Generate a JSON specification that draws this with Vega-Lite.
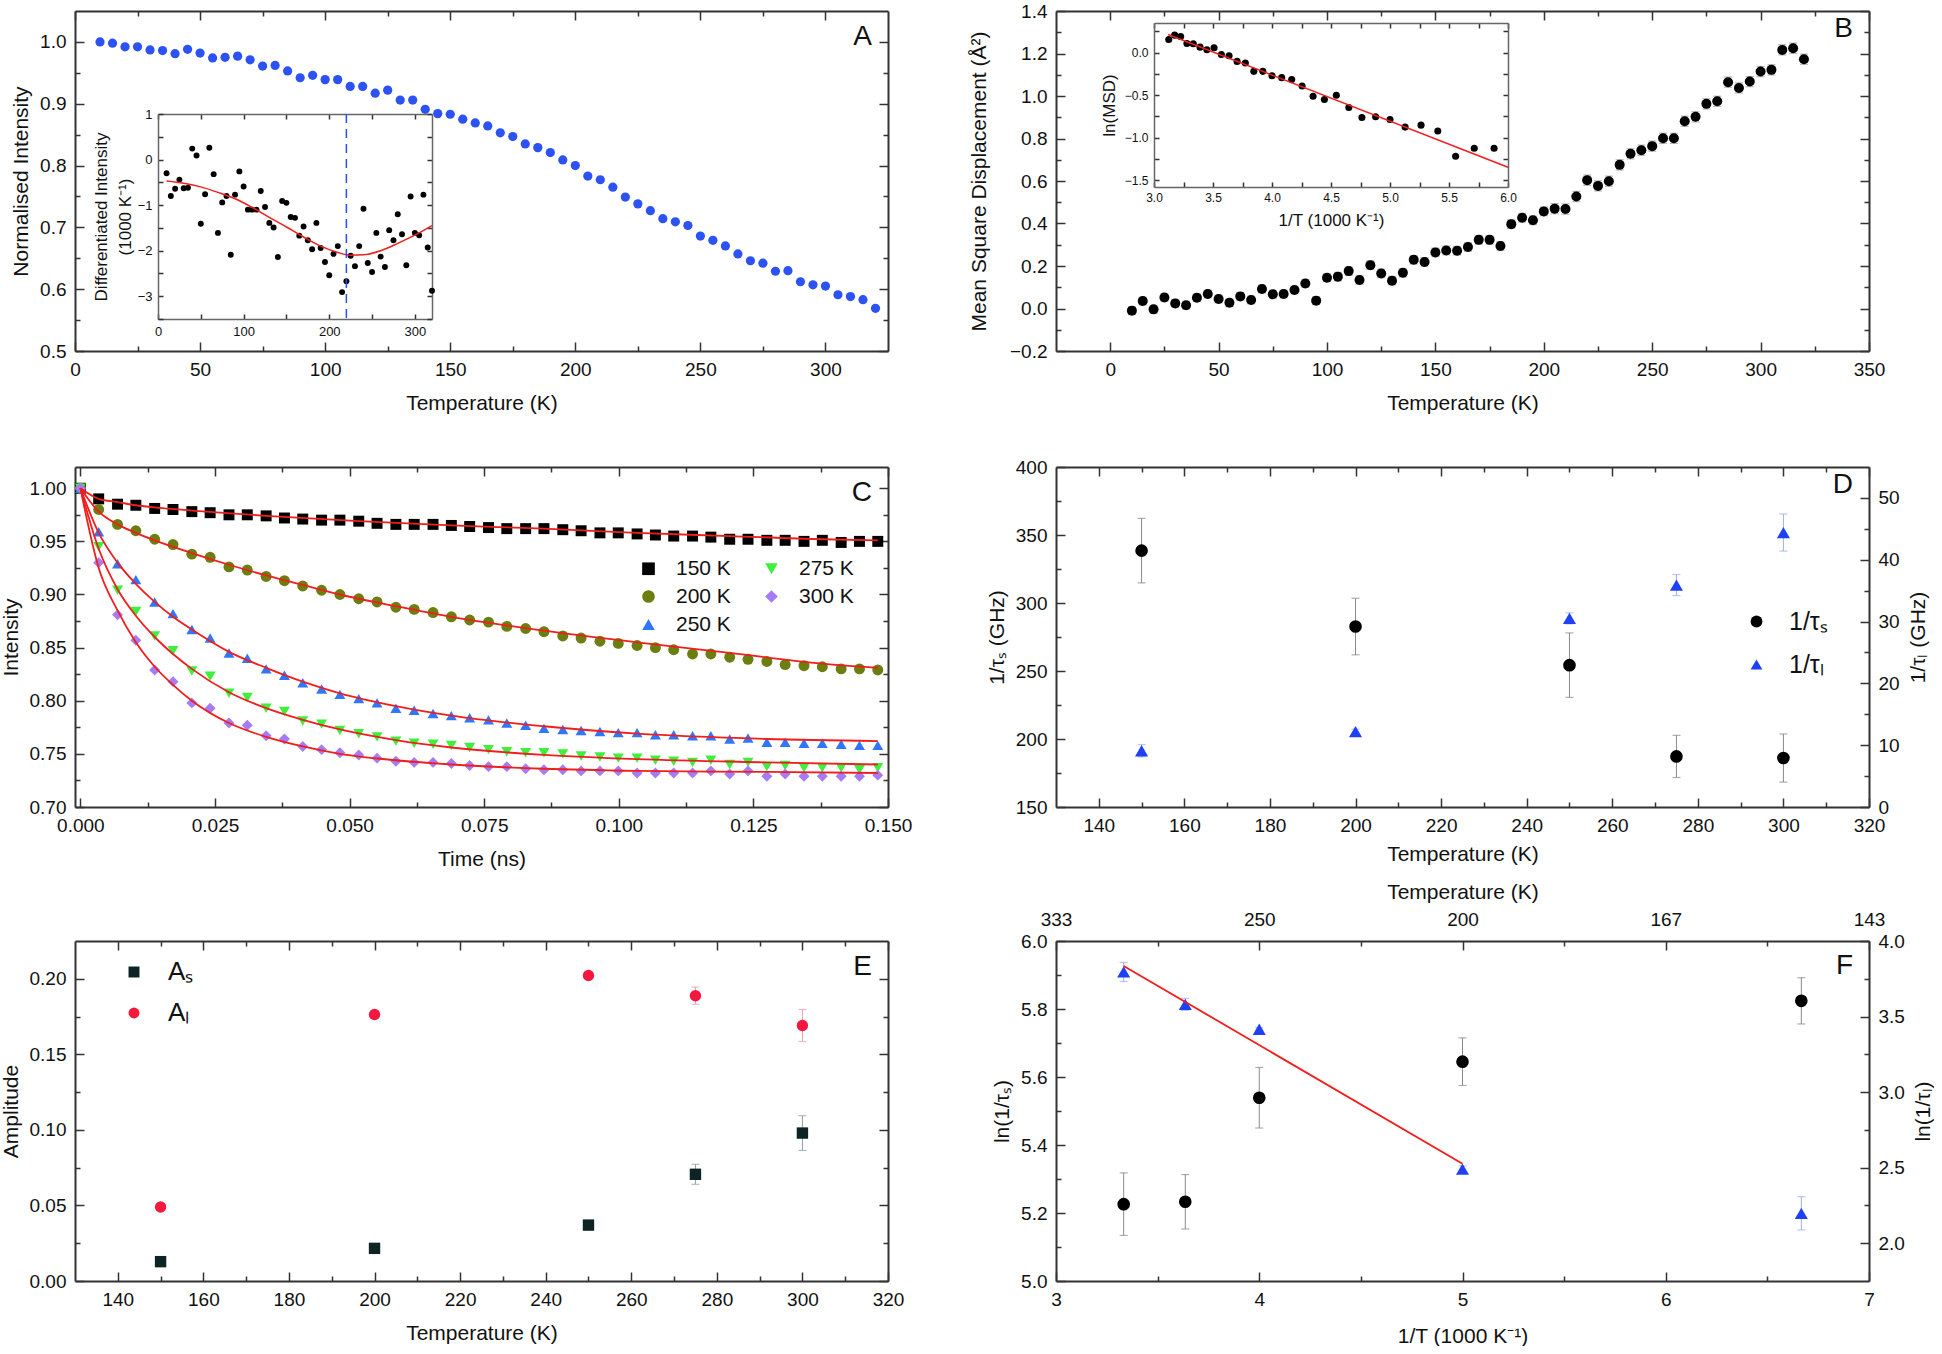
{
  "$schema": "https://vega.github.io/schema/vega-lite/v6.json",
  "background": "white",
  "padding": {"left": 0, "top": 2, "right": 0, "bottom": 0},
  "config": {
    "font": "Liberation Sans",
    "view": {"stroke": null},
    "axis": {
      "grid": false, "domainColor": "#333333", "domainWidth": 2, "tickColor": "#333333", "tickWidth": 1.5,
      "tickSize": -9, "labelPadding": 18, "labelFont": "Liberation Sans", "labelFontSize": 19, "labelColor": "#111111",
      "titleFont": "Liberation Sans", "titleFontSize": 21, "titleFontWeight": "normal", "titleColor": "#111111",
      "titlePadding": 8, "labelFlush": false, "labelOverlap": false
    },
    "title": {"font": "Liberation Sans", "fontSize": 28, "fontWeight": "normal", "anchor": "end", "frame": "group", "baseline": "alphabetic", "offset": -41, "dx": -16, "color": "#111111"},
    "legend": {"labelFont": "Liberation Sans", "labelColor": "#111111", "padding": 0, "title": null},
    "tick": {"thickness": 1.2}
  },
  "datasets": {
    "one": [{}],
    "a": [
      {"T":10,"I":1.000},{"T":15,"I":0.998},{"T":20,"I":0.992},{"T":25,"I":0.992},{"T":30,"I":0.987},{"T":35,"I":0.986},{"T":40,"I":0.981},{"T":45,"I":0.988},{"T":50,"I":0.982},{"T":55,"I":0.974},
      {"T":60,"I":0.975},{"T":65,"I":0.977},{"T":70,"I":0.971},{"T":75,"I":0.961},{"T":80,"I":0.962},{"T":85,"I":0.953},{"T":90,"I":0.942},{"T":95,"I":0.946},{"T":100,"I":0.939},{"T":105,"I":0.939},
      {"T":110,"I":0.928},{"T":115,"I":0.928},{"T":120,"I":0.917},{"T":125,"I":0.922},{"T":130,"I":0.906},{"T":135,"I":0.906},{"T":140,"I":0.891},{"T":145,"I":0.884},{"T":150,"I":0.883},{"T":155,"I":0.875},
      {"T":160,"I":0.869},{"T":165,"I":0.864},{"T":170,"I":0.853},{"T":175,"I":0.847},{"T":180,"I":0.835},{"T":185,"I":0.829},{"T":190,"I":0.821},{"T":195,"I":0.809},{"T":200,"I":0.800},{"T":205,"I":0.783},
      {"T":210,"I":0.777},{"T":215,"I":0.765},{"T":220,"I":0.749},{"T":225,"I":0.738},{"T":230,"I":0.727},{"T":235,"I":0.714},{"T":240,"I":0.709},{"T":245,"I":0.703},{"T":250,"I":0.686},{"T":255,"I":0.679},
      {"T":260,"I":0.670},{"T":265,"I":0.657},{"T":270,"I":0.646},{"T":275,"I":0.642},{"T":280,"I":0.629},{"T":285,"I":0.630},{"T":290,"I":0.612},{"T":295,"I":0.607},{"T":300,"I":0.605},{"T":305,"I":0.591},
      {"T":310,"I":0.588},{"T":315,"I":0.583},{"T":320,"I":0.569}
    ],
    "ai": [
      {"T":10,"d":-0.30},{"T":15,"d":-0.80},{"T":20,"d":-0.64},{"T":25,"d":-0.44},{"T":30,"d":-0.63},{"T":35,"d":-0.62},{"T":40,"d":0.24},{"T":45,"d":0.09},{"T":50,"d":-1.41},{"T":55,"d":-0.76},
      {"T":60,"d":0.26},{"T":65,"d":-0.32},{"T":70,"d":-1.61},{"T":75,"d":-0.94},{"T":80,"d":-0.80},{"T":85,"d":-2.09},{"T":90,"d":-0.77},{"T":95,"d":-0.26},{"T":100,"d":-0.59},{"T":105,"d":-1.10},
      {"T":110,"d":-1.10},{"T":115,"d":-1.10},{"T":120,"d":-0.69},{"T":125,"d":-1.04},{"T":130,"d":-1.39},{"T":135,"d":-1.49},{"T":140,"d":-2.14},{"T":145,"d":-0.91},{"T":150,"d":-0.95},{"T":155,"d":-1.26},
      {"T":160,"d":-1.28},{"T":165,"d":-1.67},{"T":170,"d":-1.47},{"T":175,"d":-1.77},{"T":180,"d":-1.97},{"T":185,"d":-1.39},{"T":190,"d":-1.94},{"T":195,"d":-2.25},{"T":200,"d":-2.54},{"T":205,"d":-2.07},
      {"T":210,"d":-1.90},{"T":215,"d":-2.91},{"T":220,"d":-2.67},{"T":225,"d":-2.11},{"T":230,"d":-2.34},{"T":235,"d":-1.90},{"T":240,"d":-1.08},{"T":245,"d":-2.27},{"T":250,"d":-2.47},{"T":255,"d":-1.61},
      {"T":260,"d":-2.13},{"T":265,"d":-2.36},{"T":270,"d":-1.55},{"T":275,"d":-1.77},{"T":280,"d":-1.20},{"T":285,"d":-1.64},{"T":290,"d":-2.32},{"T":295,"d":-0.81},{"T":300,"d":-1.61},{"T":305,"d":-1.66},
      {"T":310,"d":-0.77},{"T":315,"d":-1.93},{"T":320,"d":-2.88}
    ],
    "aif": [
      {"T":10,"d":-0.47},{"T":30,"d":-0.52},{"T":50,"d":-0.60},{"T":70,"d":-0.72},{"T":90,"d":-0.86},{"T":110,"d":-1.05},{"T":130,"d":-1.27},{"T":150,"d":-1.48},{"T":170,"d":-1.70},
      {"T":190,"d":-1.90},{"T":210,"d":-2.04},{"T":225,"d":-2.10},{"T":240,"d":-2.09},{"T":260,"d":-2.00},{"T":280,"d":-1.84},{"T":300,"d":-1.66},{"T":320,"d":-1.45}
    ],
    "b": [
      {"T":10,"m":-0.010,"e":0.018},{"T":15,"m":0.035,"e":0.018},{"T":20,"m":-0.004,"e":0.018},{"T":25,"m":0.052,"e":0.018},{"T":30,"m":0.024,"e":0.018},{"T":35,"m":0.015,"e":0.018},{"T":40,"m":0.051,"e":0.018},
      {"T":45,"m":0.068,"e":0.018},{"T":50,"m":0.045,"e":0.018},{"T":55,"m":0.027,"e":0.018},{"T":60,"m":0.057,"e":0.018},{"T":65,"m":0.040,"e":0.018},{"T":70,"m":0.092,"e":0.018},{"T":75,"m":0.067,"e":0.018},
      {"T":80,"m":0.068,"e":0.018},{"T":85,"m":0.087,"e":0.018},{"T":90,"m":0.118,"e":0.018},{"T":95,"m":0.037,"e":0.018},{"T":100,"m":0.145,"e":0.018},{"T":105,"m":0.150,"e":0.02},{"T":110,"m":0.176,"e":0.02},
      {"T":115,"m":0.134,"e":0.02},{"T":120,"m":0.204,"e":0.02},{"T":125,"m":0.165,"e":0.02},{"T":130,"m":0.131,"e":0.02},{"T":135,"m":0.168,"e":0.02},{"T":140,"m":0.229,"e":0.02},{"T":145,"m":0.219,"e":0.02},
      {"T":150,"m":0.264,"e":0.02},{"T":155,"m":0.273,"e":0.02},{"T":160,"m":0.272,"e":0.02},{"T":165,"m":0.289,"e":0.02},{"T":170,"m":0.323,"e":0.02},{"T":175,"m":0.323,"e":0.02},{"T":180,"m":0.294,"e":0.02},
      {"T":185,"m":0.397,"e":0.02},{"T":190,"m":0.427,"e":0.02},{"T":195,"m":0.415,"e":0.02},{"T":200,"m":0.457,"e":0.02},{"T":205,"m":0.470,"e":0.024},{"T":210,"m":0.468,"e":0.024},{"T":215,"m":0.527,"e":0.024},
      {"T":220,"m":0.604,"e":0.024},{"T":225,"m":0.577,"e":0.024},{"T":230,"m":0.599,"e":0.024},{"T":235,"m":0.676,"e":0.024},{"T":240,"m":0.728,"e":0.024},{"T":245,"m":0.745,"e":0.024},{"T":250,"m":0.764,"e":0.024},
      {"T":255,"m":0.801,"e":0.024},{"T":260,"m":0.801,"e":0.024},{"T":265,"m":0.881,"e":0.024},{"T":270,"m":0.902,"e":0.024},{"T":275,"m":0.963,"e":0.024},{"T":280,"m":0.975,"e":0.024},{"T":285,"m":1.065,"e":0.024},
      {"T":290,"m":1.038,"e":0.024},{"T":295,"m":1.068,"e":0.024},{"T":300,"m":1.115,"e":0.024},{"T":305,"m":1.123,"e":0.024},{"T":310,"m":1.217,"e":0.024},{"T":315,"m":1.225,"e":0.024},{"T":320,"m":1.173,"e":0.024}
    ],
    "bi": [
      {"x":3.125,"y":0.156},{"x":3.175,"y":0.207},{"x":3.226,"y":0.191},{"x":3.279,"y":0.109},{"x":3.333,"y":0.105},{"x":3.390,"y":0.066},{"x":3.448,"y":0.035},{"x":3.509,"y":0.059},
      {"x":3.571,"y":-0.020},{"x":3.636,"y":-0.035},{"x":3.704,"y":-0.102},{"x":3.774,"y":-0.121},{"x":3.846,"y":-0.219},{"x":3.922,"y":-0.219},{"x":4.000,"y":-0.270},{"x":4.082,"y":-0.293},
      {"x":4.167,"y":-0.316},{"x":4.255,"y":-0.391},{"x":4.348,"y":-0.512},{"x":4.444,"y":-0.551},{"x":4.545,"y":-0.500},{"x":4.651,"y":-0.645},{"x":4.762,"y":-0.762},{"x":4.878,"y":-0.754},
      {"x":5.000,"y":-0.785},{"x":5.128,"y":-0.875},{"x":5.263,"y":-0.852},{"x":5.405,"y":-0.922},{"x":5.556,"y":-1.219},{"x":5.714,"y":-1.125},{"x":5.882,"y":-1.125}
    ],
    "bif": [{"x":3.12,"y":0.215},{"x":6.0,"y":-1.348}],
    "c": [
      {"k":"150 K","t":0,"v":1.000},{"k":"150 K","t":0.0034,"v":0.990},{"k":"150 K","t":0.0069,"v":0.985},{"k":"150 K","t":0.0103,"v":0.984},{"k":"150 K","t":0.0138,"v":0.981},{"k":"150 K","t":0.0172,"v":0.980},
      {"k":"150 K","t":0.0207,"v":0.978},{"k":"150 K","t":0.0241,"v":0.977},{"k":"150 K","t":0.0276,"v":0.975},{"k":"150 K","t":0.0310,"v":0.975},{"k":"150 K","t":0.0345,"v":0.974},{"k":"150 K","t":0.0379,"v":0.972},
      {"k":"150 K","t":0.0413,"v":0.971},{"k":"150 K","t":0.0448,"v":0.970},{"k":"150 K","t":0.0482,"v":0.970},{"k":"150 K","t":0.0517,"v":0.969},{"k":"150 K","t":0.0551,"v":0.967},{"k":"150 K","t":0.0586,"v":0.966},
      {"k":"150 K","t":0.0620,"v":0.966},{"k":"150 K","t":0.0655,"v":0.966},{"k":"150 K","t":0.0689,"v":0.965},{"k":"150 K","t":0.0723,"v":0.964},{"k":"150 K","t":0.0758,"v":0.963},{"k":"150 K","t":0.0792,"v":0.962},
      {"k":"150 K","t":0.0827,"v":0.962},{"k":"150 K","t":0.0861,"v":0.962},{"k":"150 K","t":0.0896,"v":0.961},{"k":"150 K","t":0.0930,"v":0.960},{"k":"150 K","t":0.0965,"v":0.958},{"k":"150 K","t":0.0999,"v":0.958},
      {"k":"150 K","t":0.1034,"v":0.957},{"k":"150 K","t":0.1068,"v":0.956},{"k":"150 K","t":0.1102,"v":0.955},{"k":"150 K","t":0.1137,"v":0.955},{"k":"150 K","t":0.1171,"v":0.954},{"k":"150 K","t":0.1206,"v":0.952},
      {"k":"150 K","t":0.1240,"v":0.952},{"k":"150 K","t":0.1275,"v":0.951},{"k":"150 K","t":0.1309,"v":0.951},{"k":"150 K","t":0.1344,"v":0.950},{"k":"150 K","t":0.1378,"v":0.951},{"k":"150 K","t":0.1413,"v":0.949},
      {"k":"150 K","t":0.1447,"v":0.950},{"k":"150 K","t":0.1481,"v":0.950},
      {"k":"200 K","t":0,"v":1.000},{"k":"200 K","t":0.0034,"v":0.980},{"k":"200 K","t":0.0069,"v":0.966},{"k":"200 K","t":0.0103,"v":0.960},{"k":"200 K","t":0.0138,"v":0.952},{"k":"200 K","t":0.0172,"v":0.947},
      {"k":"200 K","t":0.0207,"v":0.938},{"k":"200 K","t":0.0241,"v":0.935},{"k":"200 K","t":0.0276,"v":0.926},{"k":"200 K","t":0.0310,"v":0.923},{"k":"200 K","t":0.0345,"v":0.917},{"k":"200 K","t":0.0379,"v":0.913},
      {"k":"200 K","t":0.0413,"v":0.908},{"k":"200 K","t":0.0448,"v":0.904},{"k":"200 K","t":0.0482,"v":0.900},{"k":"200 K","t":0.0517,"v":0.896},{"k":"200 K","t":0.0551,"v":0.893},{"k":"200 K","t":0.0586,"v":0.888},
      {"k":"200 K","t":0.0620,"v":0.886},{"k":"200 K","t":0.0655,"v":0.883},{"k":"200 K","t":0.0689,"v":0.879},{"k":"200 K","t":0.0723,"v":0.876},{"k":"200 K","t":0.0758,"v":0.874},{"k":"200 K","t":0.0792,"v":0.870},
      {"k":"200 K","t":0.0827,"v":0.868},{"k":"200 K","t":0.0861,"v":0.865},{"k":"200 K","t":0.0896,"v":0.861},{"k":"200 K","t":0.0930,"v":0.859},{"k":"200 K","t":0.0965,"v":0.856},{"k":"200 K","t":0.0999,"v":0.854},
      {"k":"200 K","t":0.1034,"v":0.852},{"k":"200 K","t":0.1068,"v":0.850},{"k":"200 K","t":0.1102,"v":0.848},{"k":"200 K","t":0.1137,"v":0.844},{"k":"200 K","t":0.1171,"v":0.844},{"k":"200 K","t":0.1206,"v":0.841},
      {"k":"200 K","t":0.1240,"v":0.839},{"k":"200 K","t":0.1275,"v":0.837},{"k":"200 K","t":0.1309,"v":0.834},{"k":"200 K","t":0.1344,"v":0.833},{"k":"200 K","t":0.1378,"v":0.832},{"k":"200 K","t":0.1413,"v":0.830},
      {"k":"200 K","t":0.1447,"v":0.830},{"k":"200 K","t":0.1481,"v":0.829},
      {"k":"250 K","t":0,"v":1.000},{"k":"250 K","t":0.0034,"v":0.959},{"k":"250 K","t":0.0069,"v":0.929},{"k":"250 K","t":0.0103,"v":0.914},{"k":"250 K","t":0.0138,"v":0.893},{"k":"250 K","t":0.0172,"v":0.882},
      {"k":"250 K","t":0.0207,"v":0.867},{"k":"250 K","t":0.0241,"v":0.859},{"k":"250 K","t":0.0276,"v":0.845},{"k":"250 K","t":0.0310,"v":0.840},{"k":"250 K","t":0.0345,"v":0.830},{"k":"250 K","t":0.0379,"v":0.824},
      {"k":"250 K","t":0.0413,"v":0.817},{"k":"250 K","t":0.0448,"v":0.811},{"k":"250 K","t":0.0482,"v":0.806},{"k":"250 K","t":0.0517,"v":0.802},{"k":"250 K","t":0.0551,"v":0.798},{"k":"250 K","t":0.0586,"v":0.793},
      {"k":"250 K","t":0.0620,"v":0.791},{"k":"250 K","t":0.0655,"v":0.788},{"k":"250 K","t":0.0689,"v":0.786},{"k":"250 K","t":0.0723,"v":0.784},{"k":"250 K","t":0.0758,"v":0.782},{"k":"250 K","t":0.0792,"v":0.779},
      {"k":"250 K","t":0.0827,"v":0.777},{"k":"250 K","t":0.0861,"v":0.774},{"k":"250 K","t":0.0896,"v":0.773},{"k":"250 K","t":0.0930,"v":0.772},{"k":"250 K","t":0.0965,"v":0.771},{"k":"250 K","t":0.0999,"v":0.770},
      {"k":"250 K","t":0.1034,"v":0.770},{"k":"250 K","t":0.1068,"v":0.768},{"k":"250 K","t":0.1102,"v":0.768},{"k":"250 K","t":0.1137,"v":0.767},{"k":"250 K","t":0.1171,"v":0.767},{"k":"250 K","t":0.1206,"v":0.764},
      {"k":"250 K","t":0.1240,"v":0.765},{"k":"250 K","t":0.1275,"v":0.761},{"k":"250 K","t":0.1309,"v":0.761},{"k":"250 K","t":0.1344,"v":0.760},{"k":"250 K","t":0.1378,"v":0.760},{"k":"250 K","t":0.1413,"v":0.759},
      {"k":"250 K","t":0.1447,"v":0.758},{"k":"250 K","t":0.1481,"v":0.758},
      {"k":"275 K","t":0,"v":1.000},{"k":"275 K","t":0.0034,"v":0.945},{"k":"275 K","t":0.0069,"v":0.904},{"k":"275 K","t":0.0103,"v":0.884},{"k":"275 K","t":0.0138,"v":0.861},{"k":"275 K","t":0.0172,"v":0.847},
      {"k":"275 K","t":0.0207,"v":0.828},{"k":"275 K","t":0.0241,"v":0.823},{"k":"275 K","t":0.0276,"v":0.807},{"k":"275 K","t":0.0310,"v":0.803},{"k":"275 K","t":0.0345,"v":0.793},{"k":"275 K","t":0.0379,"v":0.790},
      {"k":"275 K","t":0.0413,"v":0.781},{"k":"275 K","t":0.0448,"v":0.778},{"k":"275 K","t":0.0482,"v":0.772},{"k":"275 K","t":0.0517,"v":0.769},{"k":"275 K","t":0.0551,"v":0.766},{"k":"275 K","t":0.0586,"v":0.762},
      {"k":"275 K","t":0.0620,"v":0.760},{"k":"275 K","t":0.0655,"v":0.759},{"k":"275 K","t":0.0689,"v":0.758},{"k":"275 K","t":0.0723,"v":0.756},{"k":"275 K","t":0.0758,"v":0.754},{"k":"275 K","t":0.0792,"v":0.752},
      {"k":"275 K","t":0.0827,"v":0.751},{"k":"275 K","t":0.0861,"v":0.751},{"k":"275 K","t":0.0896,"v":0.750},{"k":"275 K","t":0.0930,"v":0.748},{"k":"275 K","t":0.0965,"v":0.747},{"k":"275 K","t":0.0999,"v":0.746},
      {"k":"275 K","t":0.1034,"v":0.746},{"k":"275 K","t":0.1068,"v":0.744},{"k":"275 K","t":0.1102,"v":0.743},{"k":"275 K","t":0.1137,"v":0.742},{"k":"275 K","t":0.1171,"v":0.744},{"k":"275 K","t":0.1206,"v":0.740},
      {"k":"275 K","t":0.1240,"v":0.742},{"k":"275 K","t":0.1275,"v":0.738},{"k":"275 K","t":0.1309,"v":0.739},{"k":"275 K","t":0.1344,"v":0.737},{"k":"275 K","t":0.1378,"v":0.737},{"k":"275 K","t":0.1413,"v":0.737},
      {"k":"275 K","t":0.1447,"v":0.735},{"k":"275 K","t":0.1481,"v":0.737},
      {"k":"300 K","t":0,"v":1.000},{"k":"300 K","t":0.0034,"v":0.930},{"k":"300 K","t":0.0069,"v":0.881},{"k":"300 K","t":0.0103,"v":0.857},{"k":"300 K","t":0.0138,"v":0.829},{"k":"300 K","t":0.0172,"v":0.818},
      {"k":"300 K","t":0.0207,"v":0.798},{"k":"300 K","t":0.0241,"v":0.793},{"k":"300 K","t":0.0276,"v":0.779},{"k":"300 K","t":0.0310,"v":0.777},{"k":"300 K","t":0.0345,"v":0.767},{"k":"300 K","t":0.0379,"v":0.764},
      {"k":"300 K","t":0.0413,"v":0.757},{"k":"300 K","t":0.0448,"v":0.754},{"k":"300 K","t":0.0482,"v":0.751},{"k":"300 K","t":0.0517,"v":0.749},{"k":"300 K","t":0.0551,"v":0.746},{"k":"300 K","t":0.0586,"v":0.743},
      {"k":"300 K","t":0.0620,"v":0.742},{"k":"300 K","t":0.0655,"v":0.742},{"k":"300 K","t":0.0689,"v":0.741},{"k":"300 K","t":0.0723,"v":0.739},{"k":"300 K","t":0.0758,"v":0.738},{"k":"300 K","t":0.0792,"v":0.738},
      {"k":"300 K","t":0.0827,"v":0.736},{"k":"300 K","t":0.0861,"v":0.735},{"k":"300 K","t":0.0896,"v":0.735},{"k":"300 K","t":0.0930,"v":0.734},{"k":"300 K","t":0.0965,"v":0.734},{"k":"300 K","t":0.0999,"v":0.734},
      {"k":"300 K","t":0.1034,"v":0.732},{"k":"300 K","t":0.1068,"v":0.732},{"k":"300 K","t":0.1102,"v":0.732},{"k":"300 K","t":0.1137,"v":0.732},{"k":"300 K","t":0.1171,"v":0.734},{"k":"300 K","t":0.1206,"v":0.731},
      {"k":"300 K","t":0.1240,"v":0.734},{"k":"300 K","t":0.1275,"v":0.729},{"k":"300 K","t":0.1309,"v":0.731},{"k":"300 K","t":0.1344,"v":0.729},{"k":"300 K","t":0.1378,"v":0.729},{"k":"300 K","t":0.1413,"v":0.729},
      {"k":"300 K","t":0.1447,"v":0.729},{"k":"300 K","t":0.1481,"v":0.730}
    ],
    "cf": [
      {"k":"150 K","t":0,"v":1.0},{"k":"150 K","t":0.0034,"v":0.990},{"k":"150 K","t":0.0069,"v":0.987},{"k":"150 K","t":0.0103,"v":0.984},{"k":"150 K","t":0.0138,"v":0.982},{"k":"150 K","t":0.0207,"v":0.979},{"k":"150 K","t":0.0345,"v":0.974},
      {"k":"150 K","t":0.0517,"v":0.969},{"k":"150 K","t":0.0689,"v":0.965},{"k":"150 K","t":0.0861,"v":0.962},{"k":"150 K","t":0.1034,"v":0.958},{"k":"150 K","t":0.1206,"v":0.955},{"k":"150 K","t":0.1378,"v":0.952},{"k":"150 K","t":0.1481,"v":0.951},
      {"k":"200 K","t":0,"v":1.0},{"k":"200 K","t":0.0034,"v":0.978},{"k":"200 K","t":0.0069,"v":0.966},{"k":"200 K","t":0.0103,"v":0.958},{"k":"200 K","t":0.0138,"v":0.951},{"k":"200 K","t":0.0207,"v":0.939},{"k":"200 K","t":0.0276,"v":0.928},
      {"k":"200 K","t":0.0345,"v":0.918},{"k":"200 K","t":0.0413,"v":0.909},{"k":"200 K","t":0.0482,"v":0.900},{"k":"200 K","t":0.0586,"v":0.889},{"k":"200 K","t":0.0689,"v":0.879},{"k":"200 K","t":0.0861,"v":0.866},{"k":"200 K","t":0.1034,"v":0.855},
      {"k":"200 K","t":0.1206,"v":0.845},{"k":"200 K","t":0.1378,"v":0.835},{"k":"200 K","t":0.1481,"v":0.831},
      {"k":"250 K","t":0,"v":1.0},{"k":"250 K","t":0.0034,"v":0.958},{"k":"250 K","t":0.0069,"v":0.930},{"k":"250 K","t":0.0103,"v":0.910},{"k":"250 K","t":0.0138,"v":0.893},{"k":"250 K","t":0.0172,"v":0.879},{"k":"250 K","t":0.0207,"v":0.867},
      {"k":"250 K","t":0.0276,"v":0.846},{"k":"250 K","t":0.0345,"v":0.831},{"k":"250 K","t":0.0413,"v":0.818},{"k":"250 K","t":0.0482,"v":0.807},{"k":"250 K","t":0.0586,"v":0.795},{"k":"250 K","t":0.0689,"v":0.786},{"k":"250 K","t":0.0861,"v":0.776},
      {"k":"250 K","t":0.1034,"v":0.769},{"k":"250 K","t":0.1275,"v":0.764},{"k":"250 K","t":0.1481,"v":0.762},
      {"k":"275 K","t":0,"v":1.0},{"k":"275 K","t":0.0034,"v":0.943},{"k":"275 K","t":0.0069,"v":0.905},{"k":"275 K","t":0.0103,"v":0.880},{"k":"275 K","t":0.0138,"v":0.860},{"k":"275 K","t":0.0172,"v":0.844},{"k":"275 K","t":0.0207,"v":0.830},
      {"k":"275 K","t":0.0276,"v":0.808},{"k":"275 K","t":0.0345,"v":0.793},{"k":"275 K","t":0.0413,"v":0.782},{"k":"275 K","t":0.0482,"v":0.773},{"k":"275 K","t":0.0586,"v":0.763},{"k":"275 K","t":0.0689,"v":0.756},{"k":"275 K","t":0.0861,"v":0.749},
      {"k":"275 K","t":0.1034,"v":0.745},{"k":"275 K","t":0.1275,"v":0.742},{"k":"275 K","t":0.1481,"v":0.740},
      {"k":"300 K","t":0,"v":1.0},{"k":"300 K","t":0.0034,"v":0.925},{"k":"300 K","t":0.0069,"v":0.885},{"k":"300 K","t":0.0103,"v":0.855},{"k":"300 K","t":0.0138,"v":0.832},{"k":"300 K","t":0.0172,"v":0.815},{"k":"300 K","t":0.0207,"v":0.800},
      {"k":"300 K","t":0.0276,"v":0.779},{"k":"300 K","t":0.0345,"v":0.766},{"k":"300 K","t":0.0413,"v":0.757},{"k":"300 K","t":0.0482,"v":0.750},{"k":"300 K","t":0.0586,"v":0.744},{"k":"300 K","t":0.0689,"v":0.740},{"k":"300 K","t":0.0861,"v":0.736},
      {"k":"300 K","t":0.1034,"v":0.734},{"k":"300 K","t":0.1275,"v":0.733},{"k":"300 K","t":0.1481,"v":0.732}
    ],
    "ds": [{"T":150,"v":338.5,"e":23.7},{"T":200,"v":282.7,"e":20.8},{"T":250,"v":254.3,"e":23.7},{"T":275,"v":187.2,"e":15.5},{"T":300,"v":186.0,"e":17.7}],
    "dl": [{"T":150,"v":9.1,"e":1.0},{"T":200,"v":12.2,"e":0.4},{"T":250,"v":30.5,"e":0.9},{"T":275,"v":35.9,"e":1.7},{"T":300,"v":44.4,"e":3.0}],
    "e": [
      {"k":"Aₛ","T":150,"v":0.0128,"e":0.001},{"k":"Aₛ","T":200,"v":0.0216,"e":0.001},{"k":"Aₛ","T":250,"v":0.037,"e":0.001},{"k":"Aₛ","T":275,"v":0.0706,"e":0.0066},{"k":"Aₛ","T":300,"v":0.0979,"e":0.0115},
      {"k":"Aₗ","T":150,"v":0.049,"e":0.001},{"k":"Aₗ","T":200,"v":0.1764,"e":0.001},{"k":"Aₗ","T":250,"v":0.2022,"e":0.001},{"k":"Aₗ","T":275,"v":0.1888,"e":0.0057},{"k":"Aₗ","T":300,"v":0.1691,"e":0.0106}
    ],
    "fs": [{"x":3.333,"v":5.226,"e":0.092},{"x":3.636,"v":5.233,"e":0.08},{"x":4.0,"v":5.539,"e":0.089},{"x":5.0,"v":5.645,"e":0.07},{"x":6.667,"v":5.824,"e":0.068}],
    "fl": [{"x":3.333,"v":3.795,"e":0.063},{"x":3.636,"v":3.581,"e":0.04},{"x":4.0,"v":3.416,"e":0.01},{"x":5.0,"v":2.491,"e":0.02},{"x":6.667,"v":2.198,"e":0.11}],
    "ff": [{"x":3.333,"v":3.835},{"x":5.0,"v":2.526}]
  },
  "bounds": "full",
  "spacing": 45,
  "resolve": {"scale": {"color": "independent", "shape": "independent"}},
  "vconcat": [
    {
      "hconcat": [
        {
          "width": 813, "height": 340, "title": "A",
          "resolve": {"scale": {"x": "independent", "y": "independent"}},
          "layer": [
            {"data": {"name": "a"}, "mark": {"type": "circle", "size": 85, "color": "#2d52f3", "opacity": 1},
             "encoding": {
               "x": {"field": "T", "type": "quantitative", "scale": {"domain": [0, 325]}, "axis": {"orient": "bottom", "values": [0,50,100,150,200,250,300], "format": "d", "title": "Temperature (K)", "titlePadding": 13}},
               "y": {"field": "I", "type": "quantitative", "scale": {"domain": [0.5, 1.05]}, "axis": {"orient": "left", "values": [0.5,0.6,0.7,0.8,0.9,1.0], "format": ".1f", "title": "Normalised Intensity"}}}},
            {"data": {"name": "one"}, "mark": {"type": "point", "opacity": 0},
             "encoding": {
               "x": {"datum": 0, "type": "quantitative", "scale": {"domain": [0, 325]}, "axis": {"orient": "top", "values": [0,50,100,150,200,250,300], "labels": false, "title": null}},
               "y": {"datum": 0.5, "type": "quantitative", "scale": {"domain": [0.5, 1.05]}, "axis": {"orient": "right", "values": [0.5,0.6,0.7,0.8,0.9,1.0], "labels": false, "title": null}}}},
            {"data": {"name": "one"}, "mark": {"type": "point", "opacity": 0},
             "encoding": {
               "x": {"datum": 0, "type": "quantitative", "scale": {"domain": [0, 325]}, "axis": {"orient": "bottom", "values": [25,75,125,175,225,275], "labels": false, "domain": false, "tickSize": -5, "title": null}},
               "y": {"datum": 0.5, "type": "quantitative", "scale": {"domain": [0.5, 1.05]}, "axis": {"orient": "left", "values": [0.55,0.65,0.75,0.85,0.95], "labels": false, "domain": false, "tickSize": -5, "title": null}}}},
            {"data": {"name": "one"}, "mark": {"type": "point", "opacity": 0},
             "encoding": {
               "x": {"datum": 0, "type": "quantitative", "scale": {"domain": [0, 325]}, "axis": {"orient": "top", "values": [25,75,125,175,225,275], "labels": false, "domain": false, "tickSize": -5, "title": null}},
               "y": {"datum": 0.5, "type": "quantitative", "scale": {"domain": [0.5, 1.05]}, "axis": {"orient": "right", "values": [0.55,0.65,0.75,0.85,0.95], "labels": false, "domain": false, "tickSize": -5, "title": null}}}},
            {"data": {"name": "ai"}, "mark": {"type": "circle", "size": 35, "color": "#000000", "opacity": 1},
             "encoding": {
               "x": {"field": "T", "type": "quantitative", "scale": {"domain": [0, 320], "range": [83, 357]},
                     "axis": {"orient": "bottom", "offset": -32, "values": [0,50,100,150,200,250,300], "labelExpr": "datum.value % 100 == 0 ? datum.label : ''", "format": "d", "title": null, "tickSize": -5, "labelPadding": 11, "labelFontSize": 13, "domainWidth": 1.5, "domainColor": "#666666"}},
               "y": {"field": "d", "type": "quantitative", "scale": {"domain": [-3.5, 1], "range": [308, 103]},
                     "axis": {"orient": "left", "offset": -83, "values": [-3,-2,-1,0,1], "format": "d", "title": ["Differentiated Intensity", "(1000 K⁻¹)"], "titleFontSize": 17, "titleLineHeight": 24, "titlePadding": 3, "tickSize": -5, "labelPadding": 11, "labelFontSize": 13, "domainWidth": 1.5, "domainColor": "#666666"}}}},
            {"data": {"name": "aif"}, "mark": {"type": "line", "color": "#f21d1d", "strokeWidth": 1.5, "interpolate": "monotone"},
             "encoding": {
               "x": {"field": "T", "type": "quantitative", "scale": {"domain": [0, 320], "range": [83, 357]}, "axis": null},
               "y": {"field": "d", "type": "quantitative", "scale": {"domain": [-3.5, 1], "range": [308, 103]}, "axis": null}}},
            {"data": {"name": "one"}, "mark": {"type": "rule", "color": "#2a4ff0", "strokeWidth": 1.5, "strokeDash": [9, 6]},
             "encoding": {
               "x": {"datum": 220, "type": "quantitative", "scale": {"domain": [0, 320], "range": [83, 357]}, "axis": null},
               "y": {"datum": 1, "type": "quantitative", "scale": {"domain": [-3.5, 1], "range": [308, 103]}, "axis": {"orient": "left", "offset": -83, "values": [-3.5,-2.5,-1.5,-0.5,0.5], "labels": false, "domain": false, "tickSize": -5, "title": null}},
               "y2": {"datum": -3.5}}},
            {"data": {"name": "one"}, "mark": {"type": "point", "opacity": 0},
             "encoding": {
               "x": {"datum": 0, "type": "quantitative", "scale": {"domain": [0, 320], "range": [83, 357]}, "axis": {"orient": "top", "offset": -103, "values": [0,50,100,150,200,250,300], "labels": false, "title": null, "tickSize": -5, "domainWidth": 1.5, "domainColor": "#666666"}},
               "y": {"datum": 0, "type": "quantitative", "scale": {"domain": [-3.5, 1], "range": [308, 103]}, "axis": {"orient": "right", "offset": -456, "values": [-3.5,-3,-2.5,-2,-1.5,-1,-0.5,0,0.5,1], "labels": false, "title": null, "tickSize": -5, "domainWidth": 1.5, "domainColor": "#666666"}}}}
          ]
        },
        {
          "width": 813, "height": 340, "title": "B",
          "resolve": {"scale": {"x": "independent", "y": "independent"}},
          "layer": [
            {"data": {"name": "b"}, "mark": {"type": "errorbar", "ticks": {"size": 8}, "color": "#9a9a9a"},
             "encoding": {
               "x": {"field": "T", "type": "quantitative", "scale": {"domain": [-25, 350]}, "axis": null},
               "y": {"field": "m", "type": "quantitative", "scale": {"domain": [-0.2, 1.4]}, "axis": null},
               "yError": {"field": "e"}}},
            {"data": {"name": "b"}, "mark": {"type": "circle", "size": 100, "color": "#000000", "opacity": 1},
             "encoding": {
               "x": {"field": "T", "type": "quantitative", "scale": {"domain": [-25, 350]}, "axis": {"orient": "bottom", "values": [0,50,100,150,200,250,300,350], "format": "d", "title": "Temperature (K)", "titlePadding": 13}},
               "y": {"field": "m", "type": "quantitative", "scale": {"domain": [-0.2, 1.4]}, "axis": {"orient": "left", "values": [-0.2,0,0.2,0.4,0.6,0.8,1.0,1.2,1.4], "format": ".1f", "title": "Mean Square Displacement (Å²)", "titlePadding": 20}}}},
            {"data": {"name": "one"}, "mark": {"type": "point", "opacity": 0},
             "encoding": {
               "x": {"datum": 0, "type": "quantitative", "scale": {"domain": [-25, 350]}, "axis": {"orient": "top", "values": [0,50,100,150,200,250,300,350], "labels": false, "title": null}},
               "y": {"datum": 0, "type": "quantitative", "scale": {"domain": [-0.2, 1.4]}, "axis": {"orient": "right", "values": [-0.2,0,0.2,0.4,0.6,0.8,1.0,1.2,1.4], "labels": false, "title": null}}}},
            {"data": {"name": "one"}, "mark": {"type": "point", "opacity": 0},
             "encoding": {
               "x": {"datum": 0, "type": "quantitative", "scale": {"domain": [-25, 350]}, "axis": {"orient": "bottom", "values": [25,75,125,175,225,275,325], "labels": false, "domain": false, "tickSize": -5, "title": null}},
               "y": {"datum": 0, "type": "quantitative", "scale": {"domain": [-0.2, 1.4]}, "axis": {"orient": "left", "values": [-0.1,0.1,0.3,0.5,0.7,0.9,1.1,1.3], "labels": false, "domain": false, "tickSize": -5, "title": null}}}},
            {"data": {"name": "one"}, "mark": {"type": "point", "opacity": 0},
             "encoding": {
               "x": {"datum": 0, "type": "quantitative", "scale": {"domain": [-25, 350]}, "axis": {"orient": "top", "values": [25,75,125,175,225,275,325], "labels": false, "domain": false, "tickSize": -5, "title": null}},
               "y": {"datum": 0, "type": "quantitative", "scale": {"domain": [-0.2, 1.4]}, "axis": {"orient": "right", "values": [-0.1,0.1,0.3,0.5,0.7,0.9,1.1,1.3], "labels": false, "domain": false, "tickSize": -5, "title": null}}}},
            {"data": {"name": "bi"}, "mark": {"type": "circle", "size": 50, "color": "#000000", "opacity": 1},
             "encoding": {
               "x": {"field": "x", "type": "quantitative", "scale": {"domain": [3, 6], "range": [98, 452]},
                     "axis": {"orient": "bottom", "offset": -164, "values": [3,3.25,3.5,3.75,4,4.25,4.5,4.75,5,5.25,5.5,5.75,6], "labelExpr": "(datum.value * 2) % 1 == 0 ? datum.label : ''", "format": ".1f", "title": "1/T (1000 K⁻¹)", "titleFontSize": 17, "titlePadding": 9, "tickSize": -5, "labelPadding": 10, "labelFontSize": 12, "domainWidth": 1.5, "domainColor": "#666666"}},
               "y": {"field": "y", "type": "quantitative", "scale": {"domain": [-1.58, 0.35], "range": [176, 12]},
                     "axis": {"orient": "left", "offset": -98, "values": [-1.5,-1.25,-1,-0.75,-0.5,-0.25,0,0.25], "labelExpr": "(datum.value * 2) % 1 == 0 ? datum.label : ''", "format": ".1f", "title": "ln(MSD)", "titleFontSize": 17, "titlePadding": 6, "tickSize": -5, "labelPadding": 11, "labelFontSize": 12, "domainWidth": 1.5, "domainColor": "#666666"}}}},
            {"data": {"name": "bif"}, "mark": {"type": "line", "color": "#f21d1d", "strokeWidth": 1.5},
             "encoding": {
               "x": {"field": "x", "type": "quantitative", "scale": {"domain": [3, 6], "range": [98, 452]}, "axis": null},
               "y": {"field": "y", "type": "quantitative", "scale": {"domain": [-1.58, 0.35], "range": [176, 12]}, "axis": null}}},
            {"data": {"name": "one"}, "mark": {"type": "point", "opacity": 0},
             "encoding": {
               "x": {"datum": 3, "type": "quantitative", "scale": {"domain": [3, 6], "range": [98, 452]}, "axis": {"orient": "top", "offset": -12, "values": [3,3.25,3.5,3.75,4,4.25,4.5,4.75,5,5.25,5.5,5.75,6], "labels": false, "title": null, "tickSize": -5, "domainWidth": 1.5, "domainColor": "#666666"}},
               "y": {"datum": 0, "type": "quantitative", "scale": {"domain": [-1.58, 0.35], "range": [176, 12]}, "axis": {"orient": "right", "offset": -361, "values": [-1.5,-1.25,-1,-0.75,-0.5,-0.25,0,0.25], "labels": false, "title": null, "tickSize": -5, "domainWidth": 1.5, "domainColor": "#666666"}}}}
          ]
        }
      ],
      "spacing": 168, "bounds": "flush",
      "resolve": {"scale": {"color": "independent", "shape": "independent"}}
    },
    {
      "vconcat": [
        {
          "hconcat": [
            {
              "width": 813, "height": 340, "title": "C",
              "resolve": {"scale": {"x": "independent", "y": "independent"}},
              "layer": [
                {"data": {"name": "c"}, "mark": {"type": "point", "filled": true, "size": 120, "opacity": 1},
                 "encoding": {
                   "x": {"field": "t", "type": "quantitative", "scale": {"domain": [-0.001, 0.15]}, "axis": {"orient": "bottom", "values": [0,0.025,0.05,0.075,0.1,0.125,0.15], "format": ".3f", "title": "Time (ns)", "titlePadding": 13}},
                   "y": {"field": "v", "type": "quantitative", "scale": {"domain": [0.7, 1.02]}, "axis": {"orient": "left", "values": [0.7,0.75,0.8,0.85,0.9,0.95,1.0], "format": ".2f", "title": "Intensity"}},
                   "color": {"field": "k", "type": "nominal", "scale": {"domain": ["150 K","200 K","250 K","275 K","300 K"], "range": ["#000000","#6b7f10","#2f77ff","#3cf03c","#a57cf5"]},
                             "legend": {"orient": "none", "legendX": 563, "legendY": 91, "columns": 2, "columnPadding": 30, "rowPadding": 6, "labelFontSize": 21, "symbolSize": 160, "labelOffset": 17, "title": null}},
                   "shape": {"field": "k", "type": "nominal", "scale": {"domain": ["150 K","200 K","250 K","275 K","300 K"], "range": ["square","circle","triangle-up","triangle-down","diamond"]}}}},
                {"data": {"name": "cf"}, "mark": {"type": "line", "color": "#f21d1d", "strokeWidth": 1.8, "interpolate": "monotone"},
                 "encoding": {
                   "x": {"field": "t", "type": "quantitative", "scale": {"domain": [-0.001, 0.15]}, "axis": null},
                   "y": {"field": "v", "type": "quantitative", "scale": {"domain": [0.7, 1.02]}, "axis": null},
                   "detail": {"field": "k"}}},
                {"data": {"name": "one"}, "mark": {"type": "point", "opacity": 0},
                 "encoding": {
                   "x": {"datum": 0, "type": "quantitative", "scale": {"domain": [-0.001, 0.15]}, "axis": {"orient": "top", "values": [0,0.025,0.05,0.075,0.1,0.125,0.15], "labels": false, "title": null}},
                   "y": {"datum": 0.8, "type": "quantitative", "scale": {"domain": [0.7, 1.02]}, "axis": {"orient": "right", "values": [0.7,0.75,0.8,0.85,0.9,0.95,1.0], "labels": false, "title": null}}}},
                {"data": {"name": "one"}, "mark": {"type": "point", "opacity": 0},
                 "encoding": {
                   "x": {"datum": 0, "type": "quantitative", "scale": {"domain": [-0.001, 0.15]}, "axis": {"orient": "bottom", "values": [0.0125,0.0375,0.0625,0.0875,0.1125,0.1375], "labels": false, "domain": false, "tickSize": -5, "title": null}},
                   "y": {"datum": 0.8, "type": "quantitative", "scale": {"domain": [0.7, 1.02]}, "axis": {"orient": "left", "values": [0.725,0.775,0.825,0.875,0.925,0.975], "labels": false, "domain": false, "tickSize": -5, "title": null}}}},
                {"data": {"name": "one"}, "mark": {"type": "point", "opacity": 0},
                 "encoding": {
                   "x": {"datum": 0, "type": "quantitative", "scale": {"domain": [-0.001, 0.15]}, "axis": {"orient": "top", "values": [0.0125,0.0375,0.0625,0.0875,0.1125,0.1375], "labels": false, "domain": false, "tickSize": -5, "title": null}},
                   "y": {"datum": 0.8, "type": "quantitative", "scale": {"domain": [0.7, 1.02]}, "axis": {"orient": "right", "values": [0.725,0.775,0.825,0.875,0.925,0.975], "labels": false, "domain": false, "tickSize": -5, "title": null}}}}
              ]
            },
            {
              "width": 813, "height": 340, "title": "D",
              "resolve": {"scale": {"x": "independent", "y": "independent"}},
              "layer": [
                {"data": {"name": "ds"}, "mark": {"type": "errorbar", "ticks": {"size": 8}, "color": "#8a8a8a"},
                 "encoding": {
                   "x": {"field": "T", "type": "quantitative", "scale": {"domain": [130, 320]}, "axis": null},
                   "y": {"field": "v", "type": "quantitative", "scale": {"domain": [150, 400]}, "axis": null},
                   "yError": {"field": "e"}}},
                {"data": {"name": "ds"}, "mark": {"type": "point", "filled": true, "size": 160, "opacity": 1},
                 "encoding": {
                   "x": {"field": "T", "type": "quantitative", "scale": {"domain": [130, 320]}, "axis": {"orient": "bottom", "values": [140,160,180,200,220,240,260,280,300,320], "format": "d", "title": "Temperature (K)"}},
                   "y": {"field": "v", "type": "quantitative", "scale": {"domain": [150, 400]}, "axis": {"orient": "left", "values": [150,200,250,300,350,400], "format": "d", "title": "1/τₛ (GHz)"}},
                   "color": {"datum": "1/τₛ", "scale": {"domain": ["1/τₛ","1/τₗ"], "range": ["#000000","#1f41f5"]},
                             "legend": {"orient": "none", "legendX": 688, "legendY": 142, "labelFontSize": 25, "symbolSize": 140, "rowPadding": 17, "labelOffset": 20, "title": null}},
                   "shape": {"datum": "1/τₛ", "scale": {"domain": ["1/τₛ","1/τₗ"], "range": ["circle","triangle-up"]}}}},
                {"data": {"name": "dl"}, "mark": {"type": "errorbar", "ticks": {"size": 8}, "color": "#9fb0e0"},
                 "encoding": {
                   "x": {"field": "T", "type": "quantitative", "scale": {"domain": [130, 320]}, "axis": null},
                   "y": {"field": "v", "type": "quantitative", "scale": {"domain": [0, 55]}, "axis": null},
                   "yError": {"field": "e"}}},
                {"data": {"name": "dl"}, "mark": {"type": "point", "filled": true, "size": 170, "opacity": 1},
                 "encoding": {
                   "x": {"field": "T", "type": "quantitative", "scale": {"domain": [130, 320]}, "axis": {"orient": "top", "values": [140,160,180,200,220,240,260,280,300,320], "labels": false, "title": null}},
                   "y": {"field": "v", "type": "quantitative", "scale": {"domain": [0, 55]}, "axis": {"orient": "right", "values": [0,10,20,30,40,50], "format": "d", "title": "1/τₗ (GHz)", "titleAngle": -90, "titleBaseline": "top"}},
                   "color": {"datum": "1/τₗ"},
                   "shape": {"datum": "1/τₗ"}}},
                {"data": {"name": "one"}, "mark": {"type": "point", "opacity": 0},
                 "encoding": {
                   "x": {"datum": 200, "type": "quantitative", "scale": {"domain": [130, 320]}, "axis": {"orient": "bottom", "values": [150,170,190,210,230,250,270,290,310], "labels": false, "domain": false, "tickSize": -5, "title": null}},
                   "y": {"datum": 200, "type": "quantitative", "scale": {"domain": [150, 400]}, "axis": {"orient": "left", "values": [175,225,275,325,375], "labels": false, "domain": false, "tickSize": -5, "title": null}}}},
                {"data": {"name": "one"}, "mark": {"type": "point", "opacity": 0},
                 "encoding": {
                   "x": {"datum": 200, "type": "quantitative", "scale": {"domain": [130, 320]}, "axis": {"orient": "top", "values": [150,170,190,210,230,250,270,290,310], "labels": false, "domain": false, "tickSize": -5, "title": null}},
                   "y": {"datum": 20, "type": "quantitative", "scale": {"domain": [0, 55]}, "axis": {"orient": "right", "values": [5,15,25,35,45], "labels": false, "domain": false, "tickSize": -5, "title": null}}}}
              ]
            }
          ],
          "spacing": 168, "bounds": "flush",
          "resolve": {"scale": {"color": "independent", "shape": "independent"}}
        },
        {
          "hconcat": [
            {
              "width": 813, "height": 340, "title": "E",
              "resolve": {"scale": {"x": "independent", "y": "independent"}},
              "layer": [
                {"data": {"name": "e"}, "transform": [{"filter": "datum.k == 'Aₛ'"}], "mark": {"type": "errorbar", "ticks": {"size": 8}, "color": "#8f9fae"},
                 "encoding": {
                   "x": {"field": "T", "type": "quantitative", "scale": {"domain": [130, 320]}, "axis": null},
                   "y": {"field": "v", "type": "quantitative", "scale": {"domain": [0, 0.225]}, "axis": null},
                   "yError": {"field": "e"}}},
                {"data": {"name": "e"}, "transform": [{"filter": "datum.k == 'Aₗ'"}], "mark": {"type": "errorbar", "ticks": {"size": 8}, "color": "#f29aad"},
                 "encoding": {
                   "x": {"field": "T", "type": "quantitative", "scale": {"domain": [130, 320]}, "axis": null},
                   "y": {"field": "v", "type": "quantitative", "scale": {"domain": [0, 0.225]}, "axis": null},
                   "yError": {"field": "e"}}},
                {"data": {"name": "e"}, "mark": {"type": "point", "filled": true, "size": 130, "opacity": 1},
                 "encoding": {
                   "x": {"field": "T", "type": "quantitative", "scale": {"domain": [130, 320]}, "axis": {"orient": "bottom", "values": [140,160,180,200,220,240,260,280,300,320], "format": "d", "title": "Temperature (K)", "titlePadding": 13}},
                   "y": {"field": "v", "type": "quantitative", "scale": {"domain": [0, 0.225]}, "axis": {"orient": "left", "values": [0,0.05,0.1,0.15,0.2], "format": ".2f", "title": "Amplitude"}},
                   "color": {"field": "k", "type": "nominal", "scale": {"domain": ["Aₛ","Aₗ"], "range": ["#0e2424","#f5183e"]},
                             "legend": {"orient": "none", "legendX": 46, "legendY": 18, "labelFontSize": 26, "symbolSize": 120, "rowPadding": 15, "labelOffset": 21, "title": null}},
                   "shape": {"field": "k", "type": "nominal", "scale": {"domain": ["Aₛ","Aₗ"], "range": ["square","circle"]}}}},
                {"data": {"name": "one"}, "mark": {"type": "point", "opacity": 0},
                 "encoding": {
                   "x": {"datum": 200, "type": "quantitative", "scale": {"domain": [130, 320]}, "axis": {"orient": "top", "values": [140,160,180,200,220,240,260,280,300,320], "labels": false, "title": null}},
                   "y": {"datum": 0.1, "type": "quantitative", "scale": {"domain": [0, 0.225]}, "axis": {"orient": "right", "values": [0,0.05,0.1,0.15,0.2], "labels": false, "title": null}}}},
                {"data": {"name": "one"}, "mark": {"type": "point", "opacity": 0},
                 "encoding": {
                   "x": {"datum": 200, "type": "quantitative", "scale": {"domain": [130, 320]}, "axis": {"orient": "bottom", "values": [150,170,190,210,230,250,270,290,310], "labels": false, "domain": false, "tickSize": -5, "title": null}},
                   "y": {"datum": 0.1, "type": "quantitative", "scale": {"domain": [0, 0.225]}, "axis": {"orient": "left", "values": [0.025,0.075,0.125,0.175], "labels": false, "domain": false, "tickSize": -5, "title": null}}}},
                {"data": {"name": "one"}, "mark": {"type": "point", "opacity": 0},
                 "encoding": {
                   "x": {"datum": 200, "type": "quantitative", "scale": {"domain": [130, 320]}, "axis": {"orient": "top", "values": [150,170,190,210,230,250,270,290,310], "labels": false, "domain": false, "tickSize": -5, "title": null}},
                   "y": {"datum": 0.1, "type": "quantitative", "scale": {"domain": [0, 0.225]}, "axis": {"orient": "right", "values": [0.025,0.075,0.125,0.175], "labels": false, "domain": false, "tickSize": -5, "title": null}}}}
              ]
            },
            {
              "width": 813, "height": 340, "title": {"text": "F", "offset": -99},
              "resolve": {"scale": {"x": "independent", "y": "independent"}},
              "layer": [
                {"data": {"name": "fs"}, "mark": {"type": "errorbar", "ticks": {"size": 8}, "color": "#8a8a8a"},
                 "encoding": {
                   "x": {"field": "x", "type": "quantitative", "scale": {"domain": [3, 7]}, "axis": null},
                   "y": {"field": "v", "type": "quantitative", "scale": {"domain": [5, 6]}, "axis": null},
                   "yError": {"field": "e"}}},
                {"data": {"name": "fs"}, "mark": {"type": "point", "filled": true, "shape": "circle", "size": 160, "color": "#000000", "opacity": 1},
                 "encoding": {
                   "x": {"field": "x", "type": "quantitative", "scale": {"domain": [3, 7]}, "axis": {"orient": "bottom", "values": [3,4,5,6,7], "format": "d", "title": "1/T (1000 K⁻¹)", "titlePadding": 16}},
                   "y": {"field": "v", "type": "quantitative", "scale": {"domain": [5, 6]}, "axis": {"orient": "left", "values": [5.0,5.2,5.4,5.6,5.8,6.0], "format": ".1f", "title": "ln(1/τₛ)"}}}},
                {"data": {"name": "fl"}, "mark": {"type": "errorbar", "ticks": {"size": 8}, "color": "#9fb0e0"},
                 "encoding": {
                   "x": {"field": "x", "type": "quantitative", "scale": {"domain": [3, 7]}, "axis": null},
                   "y": {"field": "v", "type": "quantitative", "scale": {"domain": [1.75, 4]}, "axis": null},
                   "yError": {"field": "e"}}},
                {"data": {"name": "fl"}, "mark": {"type": "point", "filled": true, "shape": "triangle-up", "size": 170, "color": "#1f41f5", "opacity": 1},
                 "encoding": {
                   "x": {"field": "x", "type": "quantitative", "scale": {"domain": [3, 7]}, "axis": {"orient": "top", "values": [3,4,5,6,7], "labelExpr": "format(1000 / datum.value, '.0f')", "labelPadding": 21, "title": "Temperature (K)"}},
                   "y": {"field": "v", "type": "quantitative", "scale": {"domain": [1.75, 4]}, "axis": {"orient": "right", "values": [2.0,2.5,3.0,3.5,4.0], "format": ".1f", "title": "ln(1/τₗ)", "titleAngle": -90, "titleBaseline": "top"}}}},
                {"data": {"name": "ff"}, "mark": {"type": "line", "color": "#f21d1d", "strokeWidth": 1.8},
                 "encoding": {
                   "x": {"field": "x", "type": "quantitative", "scale": {"domain": [3, 7]}, "axis": null},
                   "y": {"field": "v", "type": "quantitative", "scale": {"domain": [1.75, 4]}, "axis": null}}},
                {"data": {"name": "one"}, "mark": {"type": "point", "opacity": 0},
                 "encoding": {
                   "x": {"datum": 4, "type": "quantitative", "scale": {"domain": [3, 7]}, "axis": {"orient": "bottom", "values": [3.5,4.5,5.5,6.5], "labels": false, "domain": false, "tickSize": -5, "title": null}},
                   "y": {"datum": 5.5, "type": "quantitative", "scale": {"domain": [5, 6]}, "axis": {"orient": "left", "values": [5.1,5.3,5.5,5.7,5.9], "labels": false, "domain": false, "tickSize": -5, "title": null}}}},
                {"data": {"name": "one"}, "mark": {"type": "point", "opacity": 0},
                 "encoding": {
                   "x": {"datum": 4, "type": "quantitative", "scale": {"domain": [3, 7]}, "axis": {"orient": "top", "values": [3.5,4.5,5.5,6.5], "labels": false, "domain": false, "tickSize": -5, "title": null}},
                   "y": {"datum": 3, "type": "quantitative", "scale": {"domain": [1.75, 4]}, "axis": {"orient": "right", "values": [2.25,2.75,3.25,3.75], "labels": false, "domain": false, "tickSize": -5, "title": null}}}}
              ]
            }
          ],
          "spacing": 168, "bounds": "flush",
          "resolve": {"scale": {"color": "independent", "shape": "independent"}}
        }
      ],
      "spacing": 12, "bounds": "full",
      "resolve": {"scale": {"color": "independent", "shape": "independent"}}
    }
  ]
}
